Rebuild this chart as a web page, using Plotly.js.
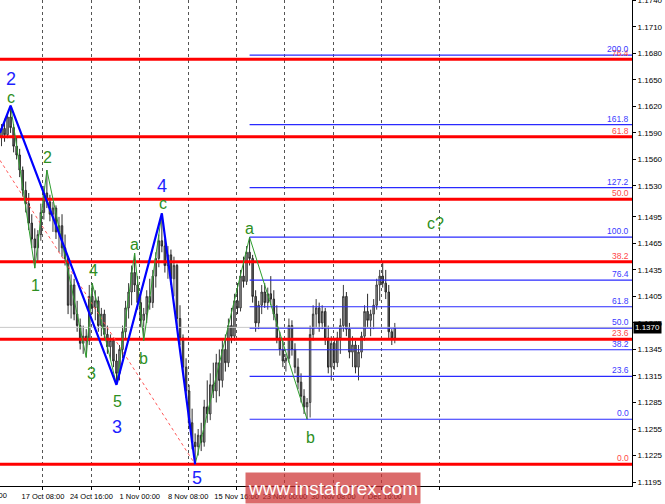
<!DOCTYPE html>
<html><head><meta charset="utf-8">
<script src="https://cdn.plot.ly/plotly-3.0.1.min.js"></script>
<style>html,body{margin:0;padding:0;background:#fff;overflow:hidden}#chart{width:665px;height:504px}</style>
</head><body><div id="chart"></div>
<script>
// ---- price data (8-hour bars) ----
const openP = [1.1585,1.1595,1.1588,1.1608,1.1596,1.1575,1.1565,1.1548,1.1525,1.1510,1.1488,1.1470,1.1460,1.1475,1.1500,1.1522,1.1512,1.1498,1.1505,1.1478,1.1485,1.1460,1.1448,1.1395,1.1418,1.1385,1.1372,1.1352,1.1360,1.1355,1.1405,1.1392,1.1400,1.1372,1.1385,1.1362,1.1348,1.1355,1.1332,1.1318,1.1345,1.1365,1.1392,1.1410,1.1432,1.1418,1.1398,1.1378,1.1385,1.1405,1.1398,1.1428,1.1448,1.1468,1.1462,1.1440,1.1452,1.1425,1.1440,1.1380,1.1358,1.1325,1.1298,1.1262,1.1240,1.1235,1.1248,1.1240,1.1280,1.1272,1.1305,1.1298,1.1330,1.1310,1.1345,1.1330,1.1372,1.1360,1.1400,1.1392,1.1428,1.1422,1.1455,1.1448,1.1405,1.1375,1.1395,1.1410,1.1398,1.1408,1.1402,1.1385,1.1358,1.1345,1.1332,1.1335,1.1372,1.1345,1.1325,1.1308,1.1292,1.1280,1.1285,1.1362,1.1385,1.1392,1.1375,1.1388,1.1358,1.1325,1.1352,1.1330,1.1358,1.1372,1.1405,1.1368,1.1342,1.1350,1.1325,1.1342,1.1360,1.1388,1.1378,1.1385,1.1395,1.1418,1.1428,1.1420,1.1410,1.1365,1.1358];
const highP = [1.1600,1.1606,1.1612,1.1621,1.1600,1.1585,1.1572,1.1552,1.1535,1.1522,1.1498,1.1482,1.1480,1.1510,1.1530,1.1548,1.1520,1.1512,1.1508,1.1495,1.1498,1.1475,1.1450,1.1430,1.1425,1.1400,1.1380,1.1372,1.1368,1.1418,1.1420,1.1412,1.1405,1.1392,1.1390,1.1372,1.1362,1.1358,1.1340,1.1350,1.1372,1.1400,1.1420,1.1440,1.1454,1.1428,1.1410,1.1392,1.1412,1.1425,1.1435,1.1455,1.1475,1.1499,1.1470,1.1462,1.1458,1.1450,1.1442,1.1395,1.1362,1.1335,1.1305,1.1278,1.1250,1.1255,1.1262,1.1288,1.1310,1.1318,1.1330,1.1340,1.1345,1.1355,1.1362,1.1380,1.1392,1.1408,1.1420,1.1435,1.1450,1.1462,1.1472,1.1452,1.1412,1.1400,1.1418,1.1420,1.1415,1.1428,1.1412,1.1395,1.1365,1.1355,1.1340,1.1380,1.1378,1.1352,1.1335,1.1318,1.1300,1.1290,1.1372,1.1395,1.1402,1.1398,1.1395,1.1392,1.1372,1.1360,1.1358,1.1365,1.1380,1.1418,1.1410,1.1375,1.1360,1.1355,1.1350,1.1365,1.1395,1.1408,1.1390,1.1402,1.1425,1.1435,1.1444,1.1435,1.1418,1.1368,1.1375];
const lowP = [1.1575,1.1580,1.1584,1.1590,1.1568,1.1560,1.1540,1.1518,1.1500,1.1480,1.1460,1.1437,1.1445,1.1468,1.1492,1.1505,1.1490,1.1478,1.1470,1.1455,1.1450,1.1440,1.1385,1.1380,1.1378,1.1365,1.1345,1.1340,1.1336,1.1350,1.1385,1.1378,1.1365,1.1360,1.1355,1.1340,1.1333,1.1325,1.1305,1.1310,1.1335,1.1358,1.1380,1.1395,1.1410,1.1390,1.1370,1.1355,1.1375,1.1390,1.1392,1.1415,1.1438,1.1455,1.1432,1.1425,1.1418,1.1405,1.1372,1.1350,1.1318,1.1290,1.1255,1.1232,1.1215,1.1225,1.1230,1.1235,1.1262,1.1265,1.1290,1.1285,1.1292,1.1302,1.1320,1.1325,1.1352,1.1355,1.1385,1.1388,1.1415,1.1418,1.1440,1.1398,1.1365,1.1368,1.1385,1.1392,1.1390,1.1395,1.1378,1.1352,1.1338,1.1325,1.1320,1.1330,1.1338,1.1318,1.1300,1.1285,1.1272,1.1266,1.1268,1.1355,1.1370,1.1365,1.1368,1.1350,1.1318,1.1310,1.1322,1.1325,1.1340,1.1365,1.1360,1.1335,1.1325,1.1318,1.1310,1.1335,1.1355,1.1370,1.1360,1.1368,1.1390,1.1400,1.1415,1.1402,1.1358,1.1350,1.1352];
const closeP = [1.1595,1.1588,1.1608,1.1596,1.1575,1.1565,1.1548,1.1525,1.1510,1.1488,1.1470,1.1460,1.1475,1.1500,1.1522,1.1512,1.1498,1.1505,1.1478,1.1485,1.1460,1.1448,1.1395,1.1418,1.1385,1.1372,1.1352,1.1360,1.1355,1.1405,1.1392,1.1400,1.1372,1.1385,1.1362,1.1348,1.1355,1.1332,1.1318,1.1345,1.1365,1.1392,1.1410,1.1432,1.1418,1.1398,1.1378,1.1385,1.1405,1.1398,1.1428,1.1448,1.1468,1.1462,1.1440,1.1452,1.1425,1.1440,1.1380,1.1358,1.1325,1.1298,1.1262,1.1240,1.1235,1.1248,1.1240,1.1280,1.1272,1.1305,1.1298,1.1330,1.1310,1.1345,1.1330,1.1372,1.1360,1.1400,1.1392,1.1428,1.1422,1.1455,1.1448,1.1405,1.1375,1.1395,1.1410,1.1398,1.1408,1.1402,1.1385,1.1358,1.1345,1.1332,1.1335,1.1372,1.1345,1.1325,1.1308,1.1292,1.1280,1.1285,1.1362,1.1385,1.1392,1.1375,1.1388,1.1358,1.1325,1.1352,1.1330,1.1358,1.1372,1.1405,1.1368,1.1342,1.1350,1.1325,1.1342,1.1360,1.1388,1.1378,1.1385,1.1395,1.1418,1.1428,1.1420,1.1410,1.1365,1.1358,1.1370];

// ---- axis ticks ----
const xTickVals = [13.7, 29.7, 45.7, 61.7, 77.7, 93.7, 109.7, 125.7, 144.9];
const xTickText = ['17 Oct 08:00','24 Oct 16:00','1 Nov 00:00','8 Nov 08:00','15 Nov 16:00','23 Nov 00:00','30 Nov 08:00','7 Dec 16:00',''];
const xFirstLabel = '10 Oct 00:00';
const yTickVals = [1.1195,1.1225,1.1255,1.1285,1.1315,1.1345,1.1375,1.1405,1.1435,1.1465,1.1495,1.1530,1.1560,1.1590,1.1620,1.1650,1.1680,1.1710,1.1740];

// ---- wave markup (bar index + high/low) ----
const majorIdx = [3, 38, 53, 64];
const majorKind = ['H','L','H','L'];
const majorLbl = ['2','3','4','5'];
const minorIdx = [3, 11, 15, 28, 30, 38, 44, 47, 53];
const minorKind = ['H','L','H','L','H','L','H','L','H'];
const minorLbl = ['c','1','2','3','4','5','a','b','c'];
const minor2Idx = [64, 82, 101];
const minor2Kind = ['L','H','L'];
const minor2Lbl = ['', 'a', 'b'];
const questionLbl = 'c?';
const questionIdx = 143.6, questionPrice = 1.1488;
const trendStartIdx = -0.5, trendStartPrice = 1.1559, trendEndIdx = 64;

// ---- Fibonacci levels ----
const redFibLevels = [0.0, 23.6, 38.2, 50.0, 61.8, 76.4];
const redFibLowIdx = 64, redFibHigh = 1.1815;
const blueFibLevels = [0.0, 23.6, 38.2, 50.0, 61.8, 76.4, 100.0, 127.2, 161.8, 200.0];
const blueFibHighIdx = 82, blueFibLowIdx = 101;
const watermark = 'www.instaforex.com';

// ---- build ----
const X0 = -0.5, X1 = 208.4;
const barIdx = openP.map((_, i) => i);
const priceAt = (i, k) => k === 'H' ? highP[i] : lowP[i];
const lastClose = closeP[closeP.length - 1];

const traces = [];
traces.push({type:'scatter', mode:'lines', x:[X0, X1], y:[lastClose, lastClose], line:{color:'#c8c8c8', width:1}, hoverinfo:'skip'});
traces.push({type:'candlestick', x:barIdx, open:openP, high:highP, low:lowP, close:closeP,
  increasing:{line:{color:'#3c3c3c', width:1}, fillcolor:'#a0a0a0'},
  decreasing:{line:{color:'#2a2a2a', width:1}, fillcolor:'#6c6c6c'},
  whiskerwidth:0, hoverinfo:'skip'});

// red fib
const rLow = lowP[redFibLowIdx];
const redY = redFibLevels.map(l => rLow + (redFibHigh - rLow) * l / 100);
const rx = [], ry = [];
redY.forEach(v => { rx.push(X0, X1, null); ry.push(v, v, null); });
traces.push({type:'scatter', mode:'lines', x:rx, y:ry, line:{color:'#ff0000', width:3}, hoverinfo:'skip'});

// blue fib
const bHigh = highP[blueFibHighIdx], bLow = lowP[blueFibLowIdx];
const blueY = blueFibLevels.map(l => bLow + (bHigh - bLow) * l / 100);
const bx = [], by = [];
blueY.forEach(v => { bx.push(blueFibHighIdx, X1, null); by.push(v, v, null); });
traces.push({type:'scatter', mode:'lines', x:bx, y:by, line:{color:'#2a2aff', width:1.2}, hoverinfo:'skip'});

// trend (red dotted)
traces.push({type:'scatter', mode:'lines', x:[trendStartIdx, trendEndIdx], y:[trendStartPrice, lowP[trendEndIdx]], line:{color:'#ff5a5a', width:1, dash:'dot'}, hoverinfo:'skip'});

// green waves
traces.push({type:'scatter', mode:'lines', x:minorIdx, y:minorIdx.map((i,k)=>priceAt(i,minorKind[k])), line:{color:'#2f9e2f', width:1}, hoverinfo:'skip'});
traces.push({type:'scatter', mode:'lines', x:minor2Idx, y:minor2Idx.map((i,k)=>priceAt(i,minor2Kind[k])), line:{color:'#2f9e2f', width:1}, hoverinfo:'skip'});
// blue waves
traces.push({type:'scatter', mode:'lines', x:[X0].concat(majorIdx), y:[closeP[0] - 0.0005].concat(majorIdx.map((i,k)=>priceAt(i,majorKind[k]))), line:{color:'#0000ff', width:2.2}, hoverinfo:'skip'});

const FONT = 'Liberation Sans, Arial, sans-serif';
const annotations = [];
const majorOff = [[0,27],[1,-42],[0,27],[2,-14]];
majorIdx.forEach((i,k) => annotations.push({x:i, y:priceAt(i,majorKind[k]), xref:'x', yref:'y', text:majorLbl[k], showarrow:false,
  xshift:majorOff[k][0], yshift:majorOff[k][1], font:{family:FONT, size:18, color:'#1e1eff'}}));
const minorOff = [[0,8],[1,-17],[1,13],[5,-16],[1,13],[1,-17],[0,9],[0,-18],[1,10]];
minorIdx.forEach((i,k) => annotations.push({x:i, y:priceAt(i,minorKind[k]), xref:'x', yref:'y', text:minorLbl[k], showarrow:false,
  xshift:minorOff[k][0], yshift:minorOff[k][1], font:{family:FONT, size:16, color:'#2e8f22'}}));
const minor2Off = [[0,0],[0,9],[3,-18]];
minor2Idx.forEach((i,k) => { if (minor2Lbl[k]) annotations.push({x:i, y:priceAt(i,minor2Kind[k]), xref:'x', yref:'y', text:minor2Lbl[k], showarrow:false,
  xshift:minor2Off[k][0], yshift:minor2Off[k][1], font:{family:FONT, size:16, color:'#2e8f22'}}); });
annotations.push({x:questionIdx, y:questionPrice, xref:'x', yref:'y', text:questionLbl, showarrow:false, font:{family:FONT, size:16, color:'#2e8f22'}});

// fib labels
redFibLevels.forEach((l,k) => annotations.push({x:1, y:redY[k], xref:'paper', yref:'y', xanchor:'right', yanchor:'bottom', text:l.toFixed(1), showarrow:false,
  xshift:-1, yshift:-1, font:{family:FONT, size:8.5, color:'#ff4848'}}));
blueFibLevels.forEach((l,k) => annotations.push({x:1, y:blueY[k], xref:'paper', yref:'y', xanchor:'right', yanchor:'bottom', text:l.toFixed(1), showarrow:false,
  xshift:-1, yshift:-1, font:{family:FONT, size:8.5, color:'#3a3aff'}}));

// current price box
annotations.push({x:1, y:lastClose, xref:'paper', yref:'y', xanchor:'left', yanchor:'middle', text:lastClose.toFixed(4), showarrow:false,
  xshift:1, bgcolor:'#000', font:{family:FONT, size:8, color:'#fff'}, borderpad:1});
// first (cut) date label
annotations.push({x:9/632, y:0, xref:'paper', yref:'paper', xanchor:'right', yanchor:'top', yshift:-3, text:xFirstLabel, showarrow:false,
  font:{family:FONT, size:7.5, color:'#000'}});
// watermark
annotations.push({x:333/632, y:-2/486, xref:'paper', yref:'paper', xanchor:'center', yanchor:'middle', text:watermark, showarrow:false,
  width:172, height:28, bgcolor:'rgba(205,50,50,0.72)', font:{family:FONT, size:19, color:'#ffffff'}});

const layout = {
  width:665, height:504, margin:{l:0, r:33, t:0, b:18},
  paper_bgcolor:'#ffffff', plot_bgcolor:'#ffffff', showlegend:false,
  xaxis:{range:[X0, X1], tickmode:'array', tickvals:xTickVals, ticktext:xTickText,
    showgrid:true, gridcolor:'#555555', griddash:'dot', gridwidth:1, zeroline:false,
    showline:true, linecolor:'#000', linewidth:1, ticks:'outside', ticklen:3, tickcolor:'#000',
    tickfont:{family:FONT, size:7.5, color:'#000'}, rangeslider:{visible:false}, fixedrange:true},
  yaxis:{side:'right', range:[1.11905, 1.17404], tickmode:'array', tickvals:yTickVals, ticktext:yTickVals.map(v=>v.toFixed(4)),
    showgrid:false, zeroline:false, showline:true, linecolor:'#000', linewidth:1, ticks:'outside', ticklen:3, tickcolor:'#000',
    ticklabeloverflow:'allow', tickfont:{family:FONT, size:8, color:'#000'}, fixedrange:true},
  annotations: annotations
};
Plotly.newPlot('chart', traces, layout, {staticPlot:true, displayModeBar:false});
</script></body></html>
